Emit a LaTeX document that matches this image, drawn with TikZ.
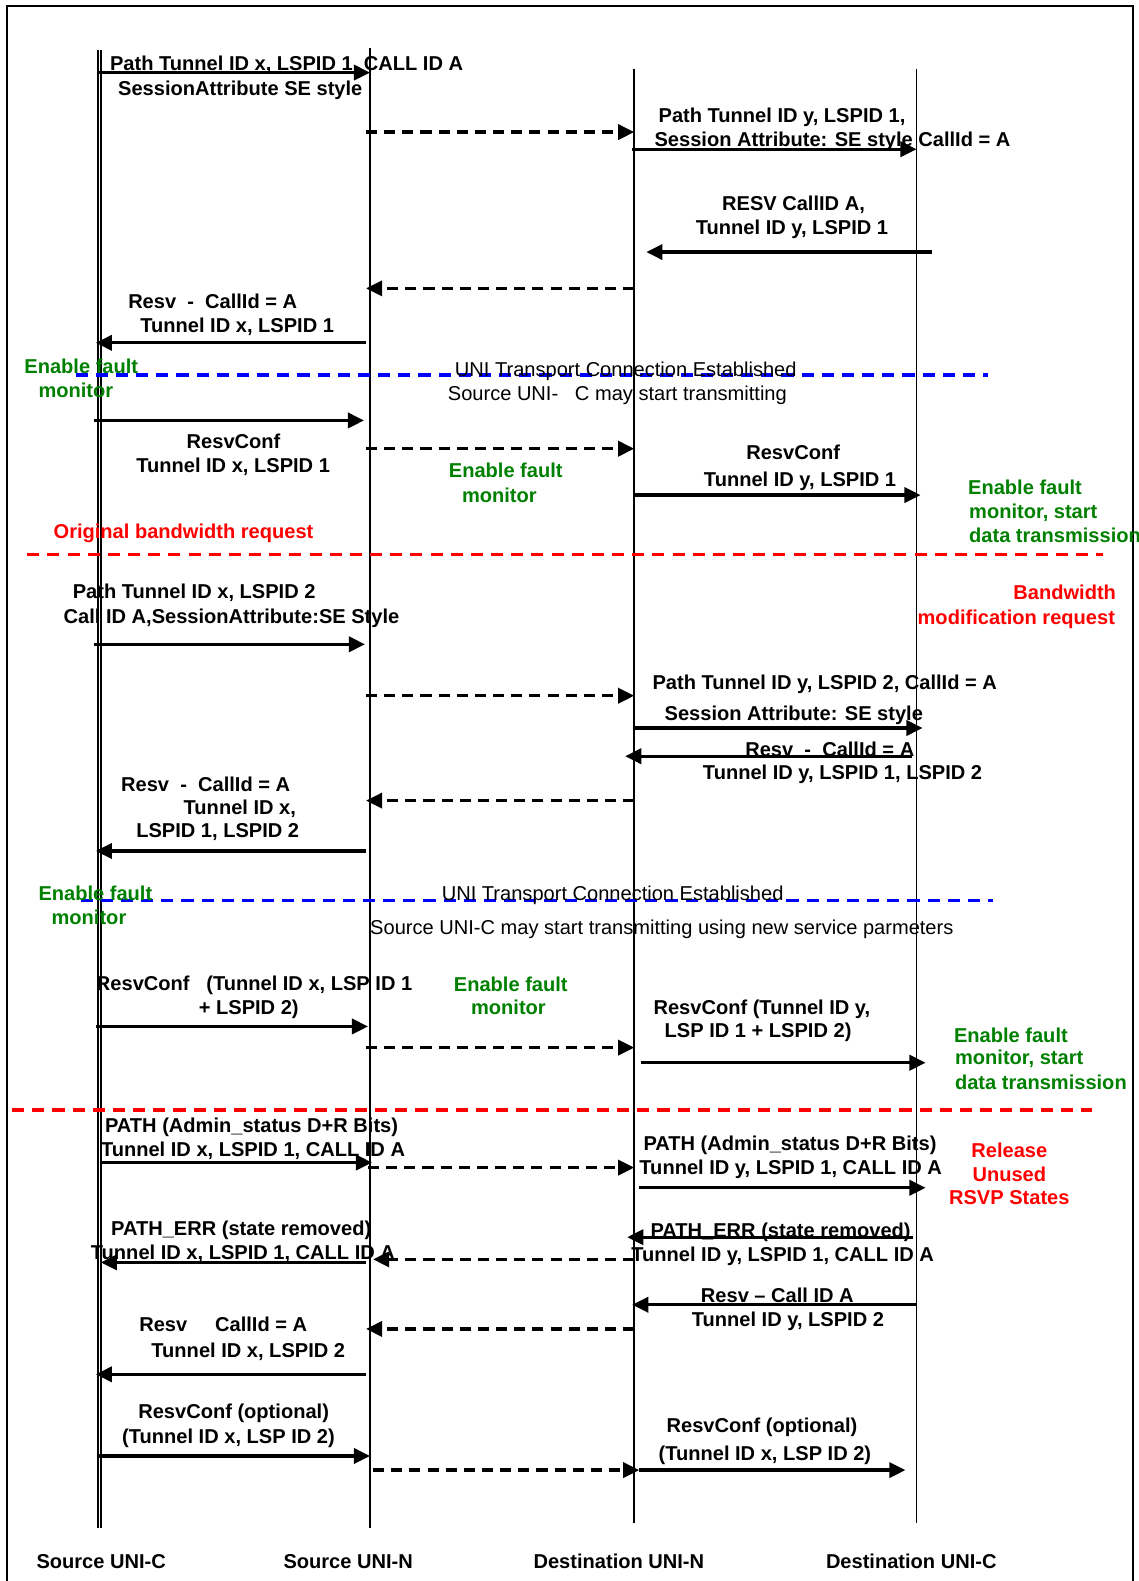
\documentclass[tikz,border=0pt]{standalone}
\usepackage{fontspec}
\setmainfont{Liberation Sans}
\usetikzlibrary{arrows.meta}
\definecolor{fgreen}{RGB}{0,128,0}
\definecolor{fred}{RGB}{255,0,0}
\definecolor{fblue}{RGB}{0,0,255}

% one message: named end points, then the connector between them
\newcommand\sqmsg[5]{%
  \coordinate (#1a) at (#3,#5);
  \coordinate (#1b) at (#4,#5);
  \draw[#2] (#1a) -- (#1b);}

\tikzset{
  txt/.style={font=\fontsize{19.9}{24}\selectfont\bfseries, inner sep=0pt,
              text height=14pt, text depth=0pt, anchor=west},
  reg/.style={txt, font=\fontsize{19.9}{24}\selectfont},
  grn/.style={txt, text=fgreen},
  rd/.style={txt, text=fred},
  life/.style={line width=1.8pt},
  msg/.style={line width=3.3pt, -{Triangle[length=16pt,width=15pt]}},
  fwd/.style={msg, dash pattern=on 11pt off 7pt},
  sepblue/.style={line width=3.3pt, fblue, dash pattern=on 12pt off 8pt},
  sepred/.style={line width=3.3pt, fred, dash pattern=on 12pt off 8pt},
}

\begin{document}
\begin{tikzpicture}[x=1pt,y=-1pt]
\useasboundingbox (0,0) rectangle (1129,1568);

% frame
\draw[line width=1.8pt] (7,1580) -- (7,6) -- (1124,6) -- (1124,1580);

% lifelines
\coordinate (scT1) at (97,50);  \coordinate (scB1) at (97,1515);
\coordinate (scT2) at (100.5,50); \coordinate (scB2) at (100.5,1515);
\coordinate (snT) at (367,48);  \coordinate (snB) at (367,1515);
\coordinate (dnT) at (629,68);  \coordinate (dnB) at (629,1510);
\coordinate (dcT) at (909,68);  \coordinate (dcB) at (909,1510);
\draw[life] (scT1) -- (scB1);
\draw[life] (scT2) -- (scB2);
\draw[life] (snT) -- (snB);
\draw[life] (dnT) -- (dnB);
\draw[life] (dcT) -- (dcB);

% phase separators
\sqmsg{sepA}{sepblue}{75}{980}{372}
\sqmsg{sepB}{sepred}{27}{1094}{550}
\sqmsg{sepC}{sepblue}{80}{985}{893}
\sqmsg{sepD}{sepred}{12}{1083}{1101}

% ---- labels: initial set-up
\node[txt] (t1) at (109,63) {Path Tunnel ID x, LSPID 1, CALL ID A};
\node[txt] (t2) at (117,88) {SessionAttribute SE style};
\node[txt] (t3) at (653,114) {Path Tunnel ID y, LSPID 1,};
\node[txt] (t4) at (649,138) {Session Attribute: SE style CallId = A};
\node[txt] (t5) at (716,202) {RESV CallID A,};
\node[txt] (t6) at (690,226) {Tunnel ID y, LSPID 1};
\node[txt] (t7) at (127,299) {Resv\ \ -\ \ CallId = A};
\node[txt] (t8) at (139,323) {Tunnel ID x, LSPID 1};
\node[grn] (g1a) at (24,363) {Enable fault};
\node[grn] (g1b) at (38,387) {monitor};
\node[reg] (t9) at (451,366) {UNI Transport Connection Established};
\node[reg] (t10) at (444,390) {Source UNI-\ \ \ C may start transmitting};
\node[txt] (t11) at (185,438) {ResvConf};
\node[txt] (t12) at (135,462) {Tunnel ID x, LSPID 1};
\node[grn] (g2a) at (445,467) {Enable fault};
\node[grn] (g2b) at (458,491) {monitor};
\node[txt] (t13) at (740,449) {ResvConf};
\node[txt] (t14) at (698,475) {Tunnel ID y, LSPID 1};
\node[grn] (g3a) at (960,483) {Enable fault};
\node[grn] (g3b) at (961,507) {monitor, start};
\node[grn] (g3c) at (961,531) {data transmission};
\node[rd] (r1) at (53,527) {Original bandwidth request};

% ---- labels: bandwidth modification
\node[txt] (t15) at (72,587) {Path Tunnel ID x, LSPID 2};
\node[txt] (t16) at (63,611) {Call ID A,SessionAttribute:SE Style};
\node[rd, anchor=east] (r2a) at (1107,588) {Bandwidth};
\node[rd, anchor=east] (r2b) at (1106,612) {modification request};
\node[txt] (t17) at (647,677) {Path Tunnel ID y, LSPID 2, CallId = A};
\node[txt] (t18) at (659,708) {Session Attribute: SE style};
\node[txt] (t19) at (739,743) {Resv\ \ -\ \ CallId = A};
\node[txt] (t20) at (697,766) {Tunnel ID y, LSPID 1, LSPID 2};
\node[txt] (t21) at (120,778) {Resv\ \ -\ \ CallId = A};
\node[txt] (t22) at (182,801) {Tunnel ID x,};
\node[txt] (t23) at (135,824) {LSPID 1, LSPID 2};
\node[grn] (g4a) at (38,886) {Enable fault};
\node[grn] (g4b) at (51,910) {monitor};
\node[reg] (t24) at (438,886) {UNI Transport Connection Established};
\node[reg] (t25) at (367,920) {Source UNI-C may start transmitting using new service parmeters};
\node[txt] (t26) at (95,975) {ResvConf\ \ \ (Tunnel ID x, LSP ID 1};
\node[txt] (t27) at (197,999) {+ LSPID 2)};
\node[grn] (g5a) at (450,976) {Enable fault};
\node[grn] (g5b) at (467,999) {monitor};
\node[txt] (t28) at (648,999) {ResvConf (Tunnel ID y,};
\node[txt] (t29) at (659,1022) {LSP ID 1 + LSPID 2)};
\node[grn] (g6a) at (946,1027) {Enable fault};
\node[grn] (g6b) at (947,1049) {monitor, start};
\node[grn] (g6c) at (947,1074) {data transmission};

% ---- labels: release of unused states
\node[txt] (t30) at (104,1116) {PATH (Admin\_status D+R Bits)};
\node[txt] (t31) at (100,1140) {Tunnel ID x, LSPID 1, CALL ID A};
\node[txt] (t32) at (638,1134) {PATH (Admin\_status D+R Bits)};
\node[txt] (t33) at (634,1158) {Tunnel ID y, LSPID 1, CALL ID A};
\node[rd, anchor=center] (r3a) at (1001,1141) {Release};
\node[rd, anchor=center] (r3b) at (1001,1165) {Unused};
\node[rd, anchor=center] (r3c) at (1001,1188) {RSVP States};
\node[txt] (t34) at (110,1218) {PATH\_ERR (state removed)};
\node[txt] (t35) at (90,1242) {Tunnel ID x, LSPID 1, CALL ID A};
\node[txt] (t36) at (645,1220) {PATH\_ERR (state removed)};
\node[txt] (t37) at (626,1244) {Tunnel ID y, LSPID 1, CALL ID A};
\node[txt] (t38) at (695,1285) {Resv – Call ID A};
\node[txt] (t39) at (686,1309) {Tunnel ID y, LSPID 2};
\node[txt] (t40) at (138,1314) {Resv\ \ \ \ \ CallId = A};
\node[txt] (t41) at (150,1339) {Tunnel ID x, LSPID 2};
\node[txt] (t42) at (137,1400) {ResvConf (optional)};
\node[txt] (t43) at (121,1425) {(Tunnel ID x, LSP ID 2)};
\node[txt] (t44) at (661,1414) {ResvConf (optional)};
\node[txt] (t45) at (653,1441) {(Tunnel ID x, LSP ID 2)};

% entity names
\node[txt] (nSC) at (36,1549) {Source UNI-C};
\node[txt] (nSN) at (281,1549) {Source UNI-N};
\node[txt] (nDN) at (529,1549) {Destination UNI-N};
\node[txt] (nDC) at (819,1549) {Destination UNI-C};

% ---- messages
\sqmsg{m1}{msg}{97}{367}{72}
\sqmsg{m2}{fwd}{363}{629}{131}
\sqmsg{m3}{msg}{627}{909}{148}
\sqmsg{m4}{msg}{924}{641}{250}
\sqmsg{m5}{fwd}{629}{363}{286}
\sqmsg{m6}{msg}{363}{95}{340}
\sqmsg{m7}{msg}{93}{361}{417}
\sqmsg{m8}{fwd}{363}{629}{445}
\sqmsg{m9}{msg}{629}{913}{491}
\sqmsg{m10}{msg}{93}{362}{639}
\sqmsg{m11}{fwd}{363}{629}{690}
\sqmsg{m12}{msg}{629}{915}{722}
\sqmsg{m13}{msg}{904}{620}{750}
\sqmsg{m14}{fwd}{629}{363}{794}
\sqmsg{m15}{msg}{363}{95}{844}
\sqmsg{m16}{msg}{95}{365}{1018}
\sqmsg{m17}{fwd}{363}{629}{1039}
\sqmsg{m18}{msg}{636}{918}{1054}
\sqmsg{m19}{msg}{99}{369}{1153}
\sqmsg{m20}{fwd}{365}{629}{1158}
\sqmsg{m21}{msg}{634}{918}{1178}
\sqmsg{m22}{msg}{905}{622}{1227}
\sqmsg{m23}{msg}{363}{100}{1252}
\sqmsg{m24}{fwd}{629}{370}{1249}
\sqmsg{m25}{msg}{909}{627}{1294}
\sqmsg{m26}{fwd}{629}{363}{1318}
\sqmsg{m27}{msg}{363}{95}{1363}
\sqmsg{m28}{msg}{97}{367}{1444}
\sqmsg{m29}{fwd}{370}{634}{1458}
\sqmsg{m30}{msg}{634}{898}{1458}
\end{tikzpicture}
\end{document}
